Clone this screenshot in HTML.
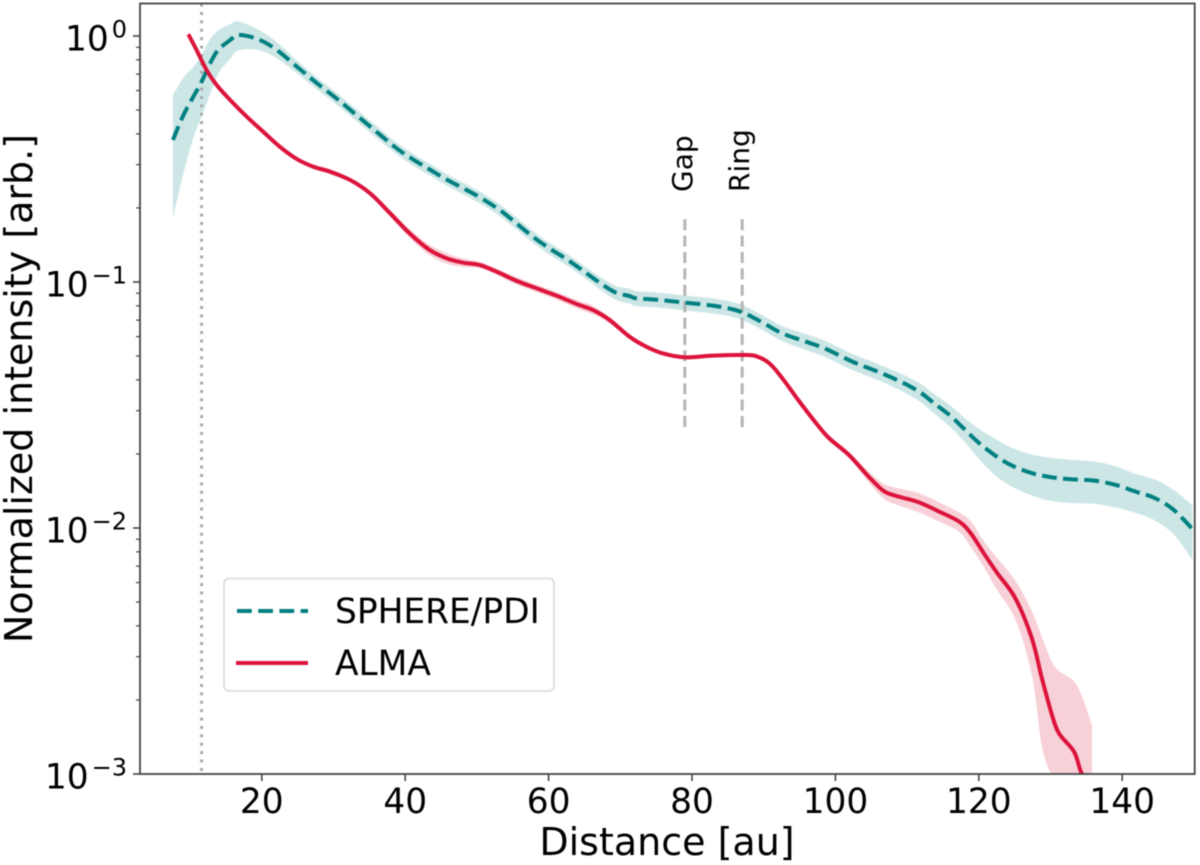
<!DOCTYPE html>
<html lang="en">
<head>
<meta charset="utf-8">
<title>Normalized intensity profiles</title>
<style>
html,body{margin:0;padding:0;background:#fff;width:1200px;height:865px;overflow:hidden}
svg{display:block;font-family:"DejaVu Sans","Liberation Sans",sans-serif;filter:blur(0.4px)}
text{fill:#000}
</style>
</head>
<body>
<svg id="chart" xmlns="http://www.w3.org/2000/svg" width="1200" height="865" viewBox="0 0 1200 865">
  <defs>
    <clipPath id="plot-clip"><rect x="140" y="3.5" width="1054.7" height="770.5"/></clipPath>
  </defs>
  <rect x="0" y="0" width="1200" height="865" fill="#fff"/>
  <g id="marks" clip-path="url(#plot-clip)"></g>
  <g id="ticks"></g>
  <rect x="140" y="3.5" width="1054.7" height="770.5" fill="none" stroke="#444" stroke-width="1.8"/>
  <text transform="translate(692 192) rotate(-90)" font-size="28">Gap</text>
  <text transform="translate(749 192) rotate(-90)" font-size="28">Ring</text>
  <text transform="translate(32 388.5) rotate(-90)" font-size="38" text-anchor="middle">Normalized intensity [arb.]</text>
  <text x="667" y="855" font-size="38" text-anchor="middle">Distance [au]</text>
  <g>
    <rect x="224" y="578.5" width="330" height="112.5" rx="5" fill="#fff" fill-opacity="0.85" stroke="#d9d9d9" stroke-width="1.6"/>
    <line x1="237" y1="611" x2="308" y2="611" stroke="#008080" stroke-width="4" stroke-dasharray="14.8 6.4"/>
    <text x="335" y="623" font-size="34.4">SPHERE/PDI</text>
    <line x1="236" y1="663" x2="308" y2="663" stroke="#dc143c" stroke-width="4"/>
    <text x="335" y="675" font-size="34.4">ALMA</text>
  </g>
</svg>
<script>
const sphereDistance = [7.6,9.07,10.46,11.6,12.8,13.9,15.6,16.7,19.5,22.1,24.9,27.6,30.4,33.2,36,38.8,41.1,43.4,45.7,48.1,50.4,53.2,55.5,57.8,60.1,62.7,65.2,67.6,69.4,71.3,72.2,75.5,79,83.4,86.8,89.8,92.6,95.9,98.7,102.4,106.1,109.3,111.7,113.5,115.9,117.9,120,122.4,124.7,127.5,130.2,133,136.3,139.1,141.9,144.6,147.2,149.8];
const sphereIntensity = [.378,.477,.567,.652,.775,.877,.963,1.01,.97,.877,.75,.646,.558,.477,.408,.3495,.315,.287,.2615,.2404,.221,.196,.1733,.1528,.1371,.1228,.109,.0972,.0905,.0877,.0859,.0845,.0824,.0798,.0757,.0685,.0618,.0572,.0534,.0474,.043,.0391,.0358,.0326,.0288,.0254,.0222,.0196,.0179,.01668,.01607,.01577,.01556,.01496,.01405,.01321,.01184,.0099];
const sphereRelError = [.52,.42,.32,.28,.25,.2,.16,.135,.095,.075,.06,.055,.055,.055,.055,.055,.055,.055,.055,.055,.055,.055,.055,.055,.055,.055,.055,.06,.065,.07,.07,.07,.07,.07,.07,.07,.07,.075,.075,.075,.075,.08,.085,.09,.1,.11,.14,.17,.18,.19,.2,.2,.195,.19,.18,.19,.205,.25];
const almaDistance = [9.76,10.9,12.3,13.7,15.6,17.9,20.2,22.5,24.9,27.2,29.5,32.3,35.1,37.9,40.6,43.4,45.8,48.1,50.4,52.8,55.5,58.3,61.1,63.9,66.2,68.5,71.3,73.6,75.9,79,82.9,87.1,88.9,90.8,92.6,95,97.3,99.1,101.9,104.7,106.8,108.9,111.7,114.5,117.3,118.9,120.7,122.6,125.1,127.4,128.8,130.2,131.2,133.3,134.4,135.8];
const almaIntensity = [1.016,.877,.727,.632,.549,.47,.408,.355,.316,.294,.281,.26,.2294,.1902,.1578,.135,.1248,.1198,.1172,.11,.1012,.0943,.088,.0814,.0769,.0701,.0599,.0546,.0513,.0494,.0502,.0505,.05,.0467,.0406,.0326,.0267,.0232,.0198,.0161,.0141,.0134,.0127,.01165,.0106,.0095,.00789,.00654,.00518,.00356,.00245,.00174,.00146,.00123,.001,.0007];
const almaRelError = [.03,.03,.025,.02,.02,.015,.015,.015,.015,.02,.025,.02,.02,.03,.04,.05,.05,.04,.03,.03,.035,.035,.035,.04,.04,.03,.025,.02,.02,.015,.015,.015,.015,.015,.02,.02,.025,.03,.03,.05,.07,.08,.09,.09,.09,.12,.12,.15,.18,.29,.47,.64,.8,.93,1.06,1.25];
const xTickValues = [20,40,60,80,100,120,140];
const xTickLabels = ['20','40','60','80','100','120','140'];
const yTickValues = [1,0.1,0.01,0.001];
const yTickExponents = ['0','\u22121','\u22122','\u22123'];
const yMinorDecades = [0.001,0.01,0.1];
const yMinorMultiples = [2,3,4,5,6,7,8,9];
const gapDistance = 79;
const ringDistance = 87;
const innerDistance = 11.6;
const guideRange = [0.025,0.18];
const yDomainMin = 0.001;
const yDomainMax = 1.355;

const NS = 'http://www.w3.org/2000/svg';
const xScale = function (d) { return 261.8 + (d - 20) * 7.17; };
const yScale = function (v) { return 36 - 246 * Math.log10(v); };
const marks = document.getElementById('marks');
const ticks = document.getElementById('ticks');

function make(tag, parent) {
  const el = document.createElementNS(NS, tag);
  parent.appendChild(el);
  return el;
}
function smoothSegments(points) {
  let out = '';
  for (let i = 0; i < points.length - 1; i++) {
    const p0 = points[Math.max(i - 1, 0)];
    const p1 = points[i];
    const p2 = points[i + 1];
    const p3 = points[Math.min(i + 2, points.length - 1)];
    const c1x = p1[0] + (p2[0] - p0[0]) / 6;
    const c1y = p1[1] + (p2[1] - p0[1]) / 6;
    const c2x = p2[0] - (p3[0] - p1[0]) / 6;
    const c2y = p2[1] - (p3[1] - p1[1]) / 6;
    out += 'C' + c1x.toFixed(2) + ' ' + c1y.toFixed(2) + ' ' + c2x.toFixed(2) + ' ' + c2y.toFixed(2) + ' ' + p2[0].toFixed(2) + ' ' + p2[1].toFixed(2);
  }
  return out;
}
function linePath(xs, ys) {
  const points = xs.map(function (d, i) { return [xScale(d), Math.min(yScale(ys[i]), yScale(yDomainMin) + 3)]; });
  return 'M' + points[0][0].toFixed(2) + ' ' + points[0][1].toFixed(2) + smoothSegments(points);
}
function bandPath(xs, ys, errs) {
  const upper = xs.map(function (d, i) { return [xScale(d), yScale(ys[i] * (1 + errs[i]))]; });
  const lower = xs.map(function (d, i) { return [xScale(d), yScale(Math.max(ys[i] * (1 - errs[i]), yDomainMin * 0.99))]; }).reverse();
  return 'M' + upper[0][0].toFixed(2) + ' ' + upper[0][1].toFixed(2) + smoothSegments(upper) +
    'L' + lower[0][0].toFixed(2) + ' ' + lower[0][1].toFixed(2) + smoothSegments(lower) + 'Z';
}

const sphereBand = make('path', marks);


sphereBand.setAttribute('d', bandPath(sphereDistance, sphereIntensity, sphereRelError));
sphereBand.setAttribute('fill', '#008080');
sphereBand.setAttribute('fill-opacity', '0.2');

const almaBand = make('path', marks);


almaBand.setAttribute('d', bandPath(almaDistance, almaIntensity, almaRelError));
almaBand.setAttribute('fill', '#dc143c');
almaBand.setAttribute('fill-opacity', '0.2');

const innerLine = make('line', marks);


innerLine.setAttribute('x1', xScale(innerDistance));
innerLine.setAttribute('x2', xScale(innerDistance));
innerLine.setAttribute('y1', yScale(yDomainMax));
innerLine.setAttribute('y2', yScale(yDomainMin));
innerLine.setAttribute('stroke', '#aaa');
innerLine.setAttribute('stroke-width', '3');
innerLine.setAttribute('stroke-dasharray', '3 5.4');

const gapLine = make('line', marks);


gapLine.setAttribute('x1', xScale(gapDistance));
gapLine.setAttribute('x2', xScale(gapDistance));
gapLine.setAttribute('y1', yScale(guideRange[1]));
gapLine.setAttribute('y2', yScale(guideRange[0]));
gapLine.setAttribute('stroke', '#b4b4b4');
gapLine.setAttribute('stroke-width', '3');
gapLine.setAttribute('stroke-dasharray', '11 5.4');

const ringLine = make('line', marks);


ringLine.setAttribute('x1', xScale(ringDistance));
ringLine.setAttribute('x2', xScale(ringDistance));
ringLine.setAttribute('y1', yScale(guideRange[1]));
ringLine.setAttribute('y2', yScale(guideRange[0]));
ringLine.setAttribute('stroke', '#b4b4b4');
ringLine.setAttribute('stroke-width', '3');
ringLine.setAttribute('stroke-dasharray', '11 5.4');

const sphereLine = make('path', marks);


sphereLine.setAttribute('d', linePath(sphereDistance, sphereIntensity));
sphereLine.setAttribute('fill', 'none');
sphereLine.setAttribute('stroke', '#008080');
sphereLine.setAttribute('stroke-width', '4');
sphereLine.setAttribute('stroke-dasharray', '14.8 6.4');
sphereLine.setAttribute('stroke-linejoin', 'round');

const almaLine = make('path', marks);


almaLine.setAttribute('d', linePath(almaDistance, almaIntensity));
almaLine.setAttribute('fill', 'none');
almaLine.setAttribute('stroke', '#dc143c');
almaLine.setAttribute('stroke-width', '4');
almaLine.setAttribute('stroke-linejoin', 'round');

xTickValues.forEach(function (value, i) {
  const tick = make('line', ticks);
  
  
  tick.setAttribute('x1', xScale(value));
  tick.setAttribute('x2', xScale(value));
  tick.setAttribute('y1', 774);
  tick.setAttribute('y2', 781);
  tick.setAttribute('stroke', '#444');
  tick.setAttribute('stroke-width', '1.6');
  const label = make('text', ticks);
  
  
  label.setAttribute('x', xScale(value));
  label.setAttribute('y', 813);
  label.setAttribute('font-size', '34.4');
  label.setAttribute('text-anchor', 'middle');
  label.textContent = xTickLabels[i];
});

yTickValues.forEach(function (value, i) {
  const tick = make('line', ticks);
  
  
  tick.setAttribute('x1', 133);
  tick.setAttribute('x2', 140);
  tick.setAttribute('y1', yScale(value));
  tick.setAttribute('y2', yScale(value));
  tick.setAttribute('stroke', '#444');
  tick.setAttribute('stroke-width', '1.6');
  const label = make('text', ticks);
  
  
  label.setAttribute('x', 127);
  label.setAttribute('y', yScale(value) + 14.5);
  label.setAttribute('font-size', '34.4');
  label.setAttribute('text-anchor', 'end');
  const base = make('tspan', label);
  base.textContent = '10';
  const exponent = make('tspan', label);
  exponent.setAttribute('font-size', '24');
  exponent.setAttribute('dy', '-13');
  exponent.setAttribute('dx', '3');
  exponent.textContent = yTickExponents[i];
});

yMinorDecades.forEach(function (decade) {
  yMinorMultiples.forEach(function (multiple) {
    const value = decade * multiple;
    const tick = make('line', ticks);
    
    
    tick.setAttribute('x1', 136);
    tick.setAttribute('x2', 140);
    tick.setAttribute('y1', yScale(value));
    tick.setAttribute('y2', yScale(value));
    tick.setAttribute('stroke', '#444');
    tick.setAttribute('stroke-width', '1.2');
  });
});
</script>
</body>
</html>
